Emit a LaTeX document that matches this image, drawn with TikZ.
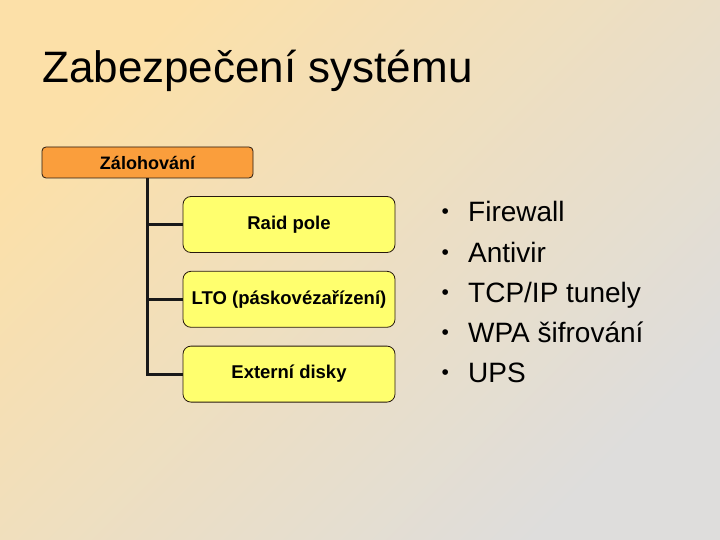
\documentclass[tikz,border=0pt]{standalone}
\usepackage{fontspec}
\setmainfont{Liberation Sans}
\usepackage{tikz}
\usetikzlibrary{positioning}
\definecolor{bgorange}{RGB}{252,224,168}
\definecolor{bggray}{RGB}{222,221,220}
\definecolor{rootfill}{RGB}{250,158,60}
\definecolor{leaffill}{RGB}{255,255,110}
\definecolor{edgedark}{RGB}{40,25,15}
\newcommand{\dotmark}{\makebox[29pt][l]{\hspace{2.5pt}\raisebox{3pt}{\fontsize{21}{21}\selectfont •}}}
\tikzstyle{rootbox}=[rectangle,rounded corners=4pt,draw=edgedark,line width=0.8pt,fill=rootfill,
                  minimum width=211pt,minimum height=31pt,inner sep=0pt,font=\fontsize{18}{18}\selectfont\bfseries]
\tikzstyle{leafbox}=[rectangle,rounded corners=8pt,draw=edgedark,line width=0.8pt,fill=leaffill,
                  minimum width=212pt,minimum height=56pt,inner sep=0pt,font=\fontsize{18.5}{18.5}\selectfont\bfseries]
\tikzstyle{branch}=[line width=3pt,draw=black!90]
\tikzstyle{bullet}=[anchor=base west,inner sep=0pt,font=\fontsize{28}{28}\selectfont]

\begin{document}
\begin{tikzpicture}[x=1pt,y=-1pt]
      \shade[left color=bgorange,right color=bggray,shading angle=45] (0,0) rectangle (720,540);
      \useasboundingbox (0,0) rectangle (720,540);

      \node[anchor=base west,inner sep=0pt,font=\fontsize{44}{44}\selectfont] (title) at (42,83) {Zabezpečení systému};

      \node[rootbox] (z0) at (147.5,162.5) {Zálohování};
      \node[leafbox] (z1) at (289,224.5) {Raid pole};
      \node[leafbox,below=18pt of z1] (z2) {LTO (páskovézařízení)};
      \node[leafbox,below=18pt of z2] (z3) {Externí disky};

      \draw[branch] (z0.south) |- (z1.west);
      \draw[branch] (z0.south) |- (z2.west);
      \draw[branch] (z0.south) |- (z3.west);

      \node[bullet] (i1) at (439,222) {\dotmark Firewall};
      \node[bullet,below=40pt of i1.base west,anchor=base west] (i2) {\dotmark Antivir};
      \node[bullet,below=40pt of i2.base west,anchor=base west] (i3) {\dotmark TCP/IP tunely};
      \node[bullet,below=40pt of i3.base west,anchor=base west] (i4) {\dotmark WPA šifrování};
      \node[bullet,below=40pt of i4.base west,anchor=base west] (i5) {\dotmark UPS};
    \end{tikzpicture}
\end{document}
